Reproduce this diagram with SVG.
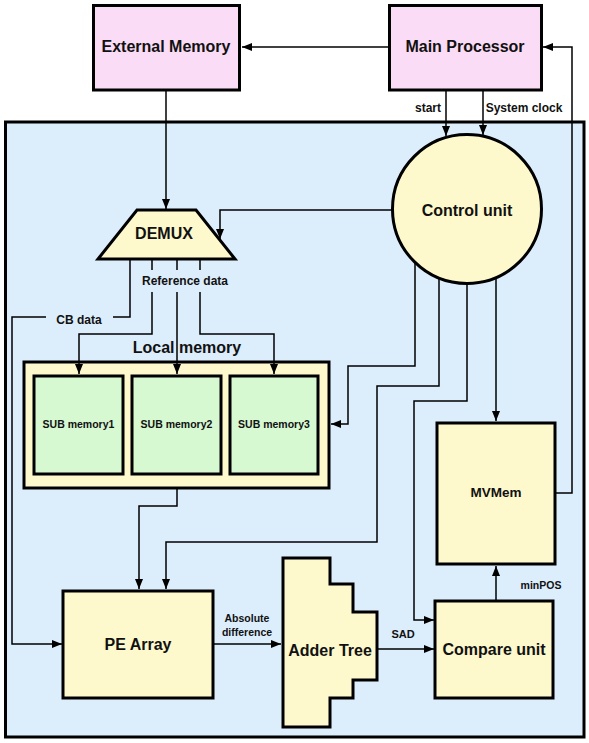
<svg xmlns="http://www.w3.org/2000/svg" width="589" height="743" viewBox="0 0 589 743">
<style>
.t{font-family:"Liberation Sans",Arial,sans-serif;font-weight:bold;fill:#111;text-anchor:middle}
.box{stroke:#000;stroke-width:3}
.pink{fill:#fbdcf6}
.yel{fill:#fdf9cd}
.grn{fill:#d6f9d2}
.c{fill:none;stroke:#000;stroke-width:1.5}
.a{marker-end:url(#arr)}
</style>
<defs>
<marker id="arr" markerUnits="userSpaceOnUse" markerWidth="11" markerHeight="8" refX="10" refY="4" orient="auto">
<path d="M0,0 L10,4 L0,8 z" fill="#000"/>
</marker>
</defs>
<rect width="589" height="743" fill="#fff"/>
<g id="container">
<rect x="5.5" y="122" width="578.5" height="615" fill="#dcedfc" stroke="#000" stroke-width="3"/>
</g>
<g id="external-memory">
<rect class="box pink" x="93.5" y="5.5" width="146" height="84.5"/>
<text class="t" x="166" y="52" font-size="16">External Memory</text>
</g>
<g id="main-processor">
<rect class="box pink" x="389.5" y="5.5" width="152" height="84.5"/>
<text class="t" x="465" y="52" font-size="16">Main Processor</text>
</g>
<g id="labels">
<text class="t" x="428" y="112" font-size="12">start</text>
<text class="t" x="524" y="112" font-size="12">System clock</text>
<text class="t" x="185" y="285" font-size="12">Reference data</text>
<text class="t" x="79" y="324" font-size="12">CB data</text>
<text class="t" x="247" y="622" font-size="10.5">Absolute</text>
<text class="t" x="247" y="636" font-size="10.5">difference</text>
<text class="t" x="403" y="638" font-size="11">SAD</text>
<text class="t" x="541" y="589" font-size="10.5">minPOS</text>
</g>
<g id="demux">
<polygon class="box yel" points="137,210 196,210 235,259 98,259"/>
<text class="t" x="164" y="239" font-size="16">DEMUX</text>
</g>
<g id="control-unit">
<circle class="box yel" cx="467" cy="209" r="74.5"/>
<text class="t" x="467" y="216" font-size="16">Control unit</text>
</g>
<g id="local-memory">
<rect class="box yel" x="24" y="362" width="305" height="126"/>
<text class="t" x="187" y="353" font-size="16">Local memory</text>
</g>
<g id="sub-memory1">
<rect class="box grn" x="34" y="376" width="89" height="98"/>
<text class="t" x="78.5" y="428" font-size="10.5">SUB memory1</text>
</g>
<g id="sub-memory2">
<rect class="box grn" x="132" y="376" width="89" height="98"/>
<text class="t" x="176.5" y="428" font-size="10.5">SUB memory2</text>
</g>
<g id="sub-memory3">
<rect class="box grn" x="230" y="376" width="88" height="98"/>
<text class="t" x="274" y="428" font-size="10.5">SUB memory3</text>
</g>
<g id="mvmem">
<rect class="box yel" x="437" y="423" width="118" height="141"/>
<text class="t" x="496" y="497" font-size="13.5">MVMem</text>
</g>
<g id="pe-array">
<rect class="box yel" x="63" y="591" width="150" height="107"/>
<text class="t" x="138" y="650" font-size="16">PE Array</text>
</g>
<g id="adder-tree">
<polygon class="box yel" points="283,558 330,558 330,584 353,584 353,612 377,612 377,680 353,680 353,698 330,698 330,727 283,727"/>
<text class="t" x="330" y="656" font-size="16">Adder Tree</text>
</g>
<g id="compare-unit">
<rect class="box yel" x="435" y="601" width="118" height="97"/>
<text class="t" x="494" y="655" font-size="16">Compare unit</text>
</g>
<g id="connectors">
<path class="c a" d="M389,47 H242"/>
<path class="c a" d="M166,90 V209"/>
<path class="c a" d="M446,90 V136"/>
<path class="c a" d="M483,90 V135"/>
<path class="c a" d="M555,493 H572 V47 H543"/>
<path class="c a" d="M393,210 H220 V239"/>
<path class="c" d="M130,259 V317 H113"/>
<path class="c a" d="M46,317 H12 V644 H62"/>
<path class="c" d="M152,259 V270 M177,259 V270 M200,259 V270"/>
<path class="c a" d="M152,292 V334 H79 V374"/>
<path class="c a" d="M177,292 V374"/>
<path class="c a" d="M200,292 V334 H274 V374"/>
<path class="c a" d="M415,263 V366 H348 V424 H331"/>
<path class="c a" d="M439,279 V386 H377 V542 H166 V589"/>
<path class="c a" d="M177,489 V506 H139 V589"/>
<path class="c a" d="M467,284 V401 H414 V620 H434"/>
<path class="c a" d="M496,278 V421"/>
<path class="c a" d="M213,644 H281"/>
<path class="c a" d="M377,649 H434"/>
<path class="c a" d="M496,600 V566"/>
</g>
</svg>
